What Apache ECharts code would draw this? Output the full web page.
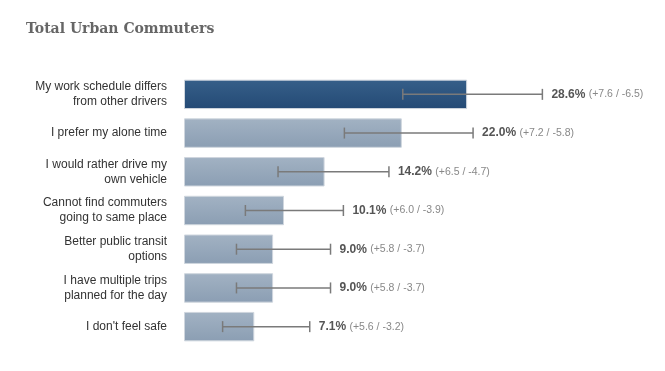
<!DOCTYPE html>
<html>
<head>
<meta charset="utf-8">
<style>
  html, body { margin: 0; padding: 0; background: #fff; }
  #chart { width: 665px; height: 371px; }
</style>
<script src="https://cdn.jsdelivr.net/npm/echarts@6/dist/echarts.min.js"></script>
</head>
<body>
<div id="chart"></div>
<script>
const categories = [
  "My work schedule differs\nfrom other drivers",
  "I prefer my alone time",
  "I would rather drive my\nown vehicle",
  "Cannot find commuters\ngoing to same place",
  "Better public transit\noptions",
  "I have multiple trips\nplanned for the day",
  "I don't feel safe"
];
const values = [28.6, 22.0, 14.2, 10.1, 9.0, 9.0, 7.1];
const plusErr = [7.6, 7.2, 6.5, 6.0, 5.8, 5.8, 5.6];
const minusErr = [6.5, 5.8, 4.7, 3.9, 3.7, 3.7, 3.2];

const highlightGrad = new echarts.graphic.LinearGradient(0, 0, 0, 1, [
  { offset: 0, color: '#365f89' }, { offset: 1, color: '#244a75' }
]);
const normalGrad = new echarts.graphic.LinearGradient(0, 0, 0, 1, [
  { offset: 0, color: '#a2b2c3' }, { offset: 1, color: '#8b9eb3' }
]);

const barData = values.map((v, i) => ({
  value: v,
  itemStyle: { color: i === 0 ? highlightGrad : normalGrad }
}));
const errData = values.map((v, i) => [i, v - minusErr[i], v + plusErr[i], v, plusErr[i], minusErr[i]]);

const chart = echarts.init(document.getElementById('chart'), null, { renderer: 'canvas' });
chart.setOption({
  animation: false,
  title: {
    text: 'Total Urban Commuters',
    left: 21, top: 17,
    textStyle: { fontFamily: 'DejaVu Serif', fontWeight: 'bold', fontSize: 14, color: '#666' }
  },
  grid: { left: 184, right: 85, top: 75, bottom: 25 },
  xAxis: {
    type: 'value', min: 0, max: 40,
    show: false
  },
  yAxis: {
    type: 'category', data: categories, inverse: true,
    axisLine: { show: false }, axisTick: { show: false },
    axisLabel: {
      margin: 17, color: '#333', fontSize: 12, lineHeight: 15,
      fontFamily: 'Liberation Sans, Arial, sans-serif'
    }
  },
  series: [
    {
      type: 'bar', data: barData, barCategoryGap: '24%',
      itemStyle: { borderColor: '#cfd6de', borderWidth: 1 }
    },
    {
      type: 'custom',
      data: errData,
      z: 5,
      renderItem: function (params, api) {
        const idx = api.value(0);
        const lo = api.coord([api.value(1), idx]);
        const hi = api.coord([api.value(2), idx]);
        const y = lo[1];
        const capH = 5.5;
        const lineStyle = { stroke: '#7a7a7a', lineWidth: 1.5 };
        const v = api.value(3), p = api.value(4), m = api.value(5);
        return {
          type: 'group',
          children: [
            { type: 'line', shape: { x1: lo[0], y1: y, x2: hi[0], y2: y }, style: lineStyle },
            { type: 'line', shape: { x1: lo[0], y1: y - capH, x2: lo[0], y2: y + capH }, style: lineStyle },
            { type: 'line', shape: { x1: hi[0], y1: y - capH, x2: hi[0], y2: y + capH }, style: lineStyle },
            {
              type: 'text',
              x: hi[0] + 9, y: y,
              style: {
                text: '{a|' + v.toFixed(1) + '%} {b|(+' + p.toFixed(1) + ' / -' + m.toFixed(1) + ')}',
                verticalAlign: 'middle',
                align: 'left',
                rich: {
                  a: { fontFamily: 'Liberation Sans, Arial, sans-serif', fontWeight: 'bold', fontSize: 12, fill: '#555' },
                  b: { fontFamily: 'Liberation Sans, Arial, sans-serif', fontSize: 10.5, fill: '#888' }
                }
              }
            }
          ]
        };
      }
    }
  ]
});
</script>
</body>
</html>
